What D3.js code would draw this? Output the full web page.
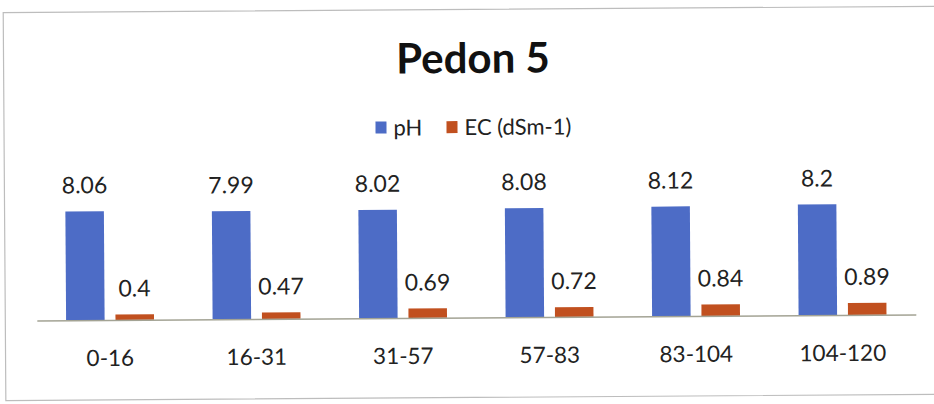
<!DOCTYPE html>
<html>
<head>
<meta charset="utf-8">
<script src="https://cdn.jsdelivr.net/npm/d3@7"></script>
<style>
  body { margin: 0; background: #fff; }
  svg { display: block; font-family: Lato, "Open Sans", sans-serif; }
</style>
</head>
<body>
<div id="chart"></div>
<script>
const categories = ['0-16', '16-31', '31-57', '57-83', '83-104', '104-120'];
const series = ['pH', 'EC (dSm-1)'];
const phValues = [8.06, 7.99, 8.02, 8.08, 8.12, 8.2];
const ecValues = [0.4, 0.47, 0.69, 0.72, 0.84, 0.89];
const colors = ['#4d6cc6', '#c1501f'];

const width = 934, height = 404;
const baseline = 317.5;

const svg = d3.select('#chart').append('svg')
    .attr('width', width)
    .attr('height', height);

// whole sheet is a touch rotated in the scan
const g = svg.append('g')
    .attr('transform', 'rotate(-0.39, 467, 200)');

// chart border
g.append('rect')
    .attr('x', 4.5).attr('y', 9.5)
    .attr('width', 940).attr('height', 388)
    .attr('fill', 'none')
    .attr('stroke', '#bdbdbd')
    .attr('stroke-width', 1.2);

// title
g.append('text')
    .attr('x', 474).attr('y', 73)
    .attr('text-anchor', 'middle')
    .attr('font-size', 42)
    .attr('font-weight', 'bold')
    .attr('fill', '#111')
    .text('Pedon 5');

// legend
const legendX = [376, 447];
const legend = g.selectAll('.legend')
    .data(series)
    .enter().append('g')
    .attr('class', 'legend')
    .attr('transform', (d, i) => `translate(${legendX[i]},121)`);

legend.append('rect')
    .attr('width', 11).attr('height', 12)
    .attr('fill', (d, i) => colors[i]);

legend.append('text')
    .attr('x', 18).attr('y', 14)
    .attr('font-size', 22)
    .attr('fill', '#222')
    .text(d => d);

// scales
const x0 = d3.scaleBand()
    .domain(categories)
    .range([36, 915])
    .paddingInner(0.4)
    .paddingOuter(0.2);

const x1 = d3.scaleBand()
    .domain(series)
    .range([0, x0.bandwidth()])
    .paddingInner(0.22);

const y = d3.scaleLinear()
    .domain([0, 9])
    .range([baseline, baseline - 121.5]);

const rows = categories.map((c, i) => ({
    cat: c,
    vals: [{ s: series[0], v: phValues[i] }, { s: series[1], v: ecValues[i] }]
}));

// bars
const group = g.selectAll('.grp')
    .data(rows)
    .enter().append('g')
    .attr('class', 'grp')
    .attr('transform', d => `translate(${x0(d.cat)},0)`);

group.selectAll('rect')
    .data(d => d.vals)
    .enter().append('rect')
    .attr('x', d => x1(d.s))
    .attr('y', d => y(d.v))
    .attr('width', x1.bandwidth())
    .attr('height', d => y(0) - y(d.v))
    .attr('fill', (d, i) => colors[i]);

group.selectAll('.val')
    .data(d => d.vals)
    .enter().append('text')
    .attr('class', 'val')
    .attr('x', d => x1(d.s) + x1.bandwidth() / 2)
    .attr('y', d => y(d.v) - 18)
    .attr('text-anchor', 'middle')
    .attr('font-size', 23)
    .attr('fill', '#222')
    .text(d => d.v);

// category axis
const xAxis = g.append('g')
    .attr('transform', `translate(0,${baseline})`)
    .call(d3.axisBottom(x0).tickSize(0).tickPadding(30));

xAxis.select('.domain')
    .attr('stroke', '#a3a394')
    .attr('stroke-width', 1.5);

xAxis.selectAll('text')
    .attr('font-size', 22.5)
    .attr('font-family', 'Lato, "Open Sans", sans-serif')
    .attr('fill', '#222');
</script>
</body>
</html>
